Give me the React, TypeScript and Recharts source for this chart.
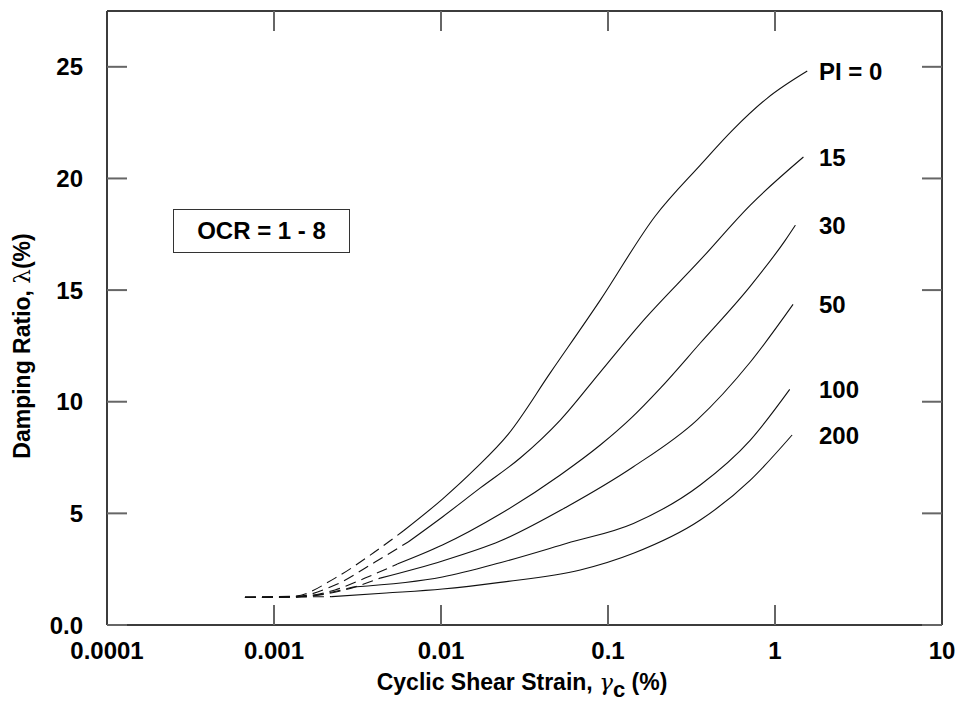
import React from 'react'
import { LineChart, Line, XAxis, YAxis, Label, LabelList } from 'recharts'

const FONT = '"Liberation Sans", Arial, Helvetica, sans-serif'
const INK = '#111'
const FRAME = '#3c3c3c'
const TICK = '#666'

const X_TICKS = [0.0001, 0.001, 0.01, 0.1, 1, 10]
const X_LABELS = ['0.0001', '0.001', '0.01', '0.1', '1', '10']
const Y_TICKS = [0, 5, 10, 15, 20, 25]
const Y_LABELS = ['0.0', '5', '10', '15', '20', '25']
const PI_NAMES = ['PI = 0', '15', '30', '50', '100', '200']

// [cyclic shear strain %, damping ratio %], dashed = extrapolated small-strain part
const PI0_DASH = [[0.00067, 1.24], [0.00134, 1.3], [0.00232, 2.1], [0.00377, 3.13], [0.00594, 4.21]]
const PI0_LINE = [[0.00594, 4.21], [0.0102, 5.64], [0.016, 6.99], [0.0253, 8.55], [0.0451, 11.29], [0.0899, 14.55], [0.192, 18.32], [0.357, 20.6], [0.563, 22.2], [0.9, 23.6], [1.56, 24.81]]

const PI15_DASH = [[0.00067, 1.24], [0.00134, 1.27], [0.00232, 1.79], [0.00403, 2.82], [0.00636, 3.72]]
const PI15_LINE = [[0.00636, 3.72], [0.0102, 4.84], [0.0172, 6.14], [0.0298, 7.48], [0.0518, 9.18], [0.0899, 11.33], [0.156, 13.48], [0.357, 16.35], [0.712, 18.81], [1.48, 20.96]]

const PI30_DASH = [[0.00067, 1.24], [0.00134, 1.26], [0.00232, 1.57], [0.00351, 2.1], [0.00547, 2.73]]
const PI30_LINE = [[0.00547, 2.73], [0.0102, 3.58], [0.0226, 4.97], [0.0518, 6.72], [0.0899, 8.06], [0.136, 9.23], [0.206, 10.61], [0.357, 12.63], [0.712, 15.18], [1.154, 17.24], [1.325, 17.91]]

const PI50_DASH = [[0.00067, 1.24], [0.00134, 1.25], [0.00249, 1.52], [0.00432, 2.1]]
const PI50_LINE = [[0.00432, 2.1], [0.0102, 2.87], [0.0226, 3.76], [0.0568, 5.3], [0.142, 7.09], [0.341, 9.18], [0.712, 11.78], [1.283, 14.36]]

const PI100_DASH = [[0.00067, 1.24], [0.00143, 1.28], [0.00298, 1.7]]
const PI100_LINE = [[0.00298, 1.7], [0.0102, 2.15], [0.0226, 2.79], [0.0568, 3.66], [0.142, 4.55], [0.357, 6.27], [0.712, 8.28], [1.225, 10.55]]

const PI200_DASH = [[0.00067, 1.24], [0.00222, 1.27]]
const PI200_LINE = [[0.00222, 1.27], [0.0047, 1.43], [0.0102, 1.61], [0.0226, 1.91], [0.0682, 2.46], [0.142, 3.21], [0.357, 4.7], [0.712, 6.49], [1.266, 8.51]]

const toPts = (a: number[][]) => a.map(([x, y]) => ({ x, y }))

const CURVES = [
  { dash: PI0_DASH, line: PI0_LINE },
  { dash: PI15_DASH, line: PI15_LINE },
  { dash: PI30_DASH, line: PI30_LINE },
  { dash: PI50_DASH, line: PI50_LINE },
  { dash: PI100_DASH, line: PI100_LINE },
  { dash: PI200_DASH, line: PI200_LINE },
].map((c, i) => ({ name: PI_NAMES[i], dash: toPts(c.dash), line: toPts(c.line) }))

const LABEL_LEFT = 819
const tickFont = { fill: '#000', fontSize: 24, fontFamily: FONT, fontWeight: 'bold' as const }

const endLabel = (text: string, last: number) => (p: any) =>
  p.index === last ? (
    <text key={text} x={LABEL_LEFT} y={p.y} dy="0.36em" fill="#000"
      fontSize={24} fontFamily={FONT} fontWeight="bold">
      {text}
    </text>
  ) : null

const XTitle = () => (
  <text x={522} y={690} textAnchor="middle" fill="#000" fontSize={23} fontFamily={FONT} fontWeight="bold">
    Cyclic Shear Strain,{' '}
    <tspan fontWeight="normal" fontFamily='"DejaVu Serif", serif' fontStyle="italic">γ</tspan>
    <tspan dy={7} fontSize={22}>c</tspan>
    <tspan dy={-7}> (%)</tspan>
  </text>
)

const YTitle = () => (
  <text x={0} y={0} transform="translate(30, 346) rotate(-90)" textAnchor="middle" fill="#000"
    fontSize={23} fontFamily={FONT} fontWeight="bold">
    Damping Ratio,{' '}
    <tspan fontWeight="normal" fontFamily='"DejaVu Serif", serif'>λ</tspan>
    (%)
  </text>
)

export default function App() {
  const axisLine = { stroke: FRAME, strokeWidth: 2 }
  const tickLine = { stroke: TICK, strokeWidth: 2 }
  return (
    <div style={{ position: 'absolute', left: 0, top: 0, width: 956, height: 702, background: '#fff' }}>
      <LineChart width={956} height={702} margin={{ top: 0, right: 0, bottom: 0, left: 0 }}>
        <XAxis xAxisId="b" dataKey="x" type="number" scale="log" domain={[0.0001, 10]} allowDataOverflow
          ticks={X_TICKS} interval={0} tickFormatter={(v: number) => X_LABELS[X_TICKS.indexOf(v)] ?? ''}
          height={77} tickSize={-20} tickMargin={37} axisLine={axisLine} tickLine={tickLine} tick={tickFont}>
          <Label content={XTitle} />
        </XAxis>
        <XAxis xAxisId="t" orientation="top" dataKey="x" type="number" scale="log" domain={[0.0001, 10]} allowDataOverflow
          ticks={X_TICKS} interval={0} tickFormatter={() => ''}
          height={11} tickSize={-20} axisLine={axisLine} tickLine={tickLine} />
        <YAxis yAxisId="l" type="number" domain={[0, 27.5]} allowDataOverflow ticks={Y_TICKS} interval={0}
          tickFormatter={(v: number) => Y_LABELS[Y_TICKS.indexOf(v)] ?? ''}
          width={107} tickSize={-20} tickMargin={44} axisLine={axisLine} tickLine={tickLine} tick={tickFont}>
          <Label content={YTitle} />
        </YAxis>
        <YAxis yAxisId="r" orientation="right" type="number" domain={[0, 27.5]} allowDataOverflow ticks={Y_TICKS}
          interval={0} tickFormatter={() => ''}
          width={14} tickSize={-20} axisLine={axisLine} tickLine={tickLine} />

        {CURVES.map(c => (
          <Line key={c.name + '-d'} xAxisId="b" yAxisId="l" data={c.dash} dataKey="y" type="monotone"
            stroke={INK} strokeWidth={1.1} strokeDasharray="11 6" dot={false} activeDot={false}
            isAnimationActive={false} />
        ))}
        {CURVES.map(c => (
          <Line key={c.name} xAxisId="b" yAxisId="l" data={c.line} dataKey="y" type="monotone"
            stroke={INK} strokeWidth={1.1} dot={false} activeDot={false} isAnimationActive={false}>
            <LabelList dataKey="y" content={endLabel(c.name, c.line.length - 1)} />
          </Line>
        ))}
      </LineChart>
      <div style={{
        position: 'absolute', left: 173, top: 209, width: 177, height: 44,
        border: '1px solid #333', boxSizing: 'border-box',
        display: 'flex', alignItems: 'center', justifyContent: 'center',
        fontFamily: FONT, fontSize: 24, fontWeight: 'bold', color: '#000',
      }}>
        OCR = 1 - 8
      </div>
    </div>
  )
}
